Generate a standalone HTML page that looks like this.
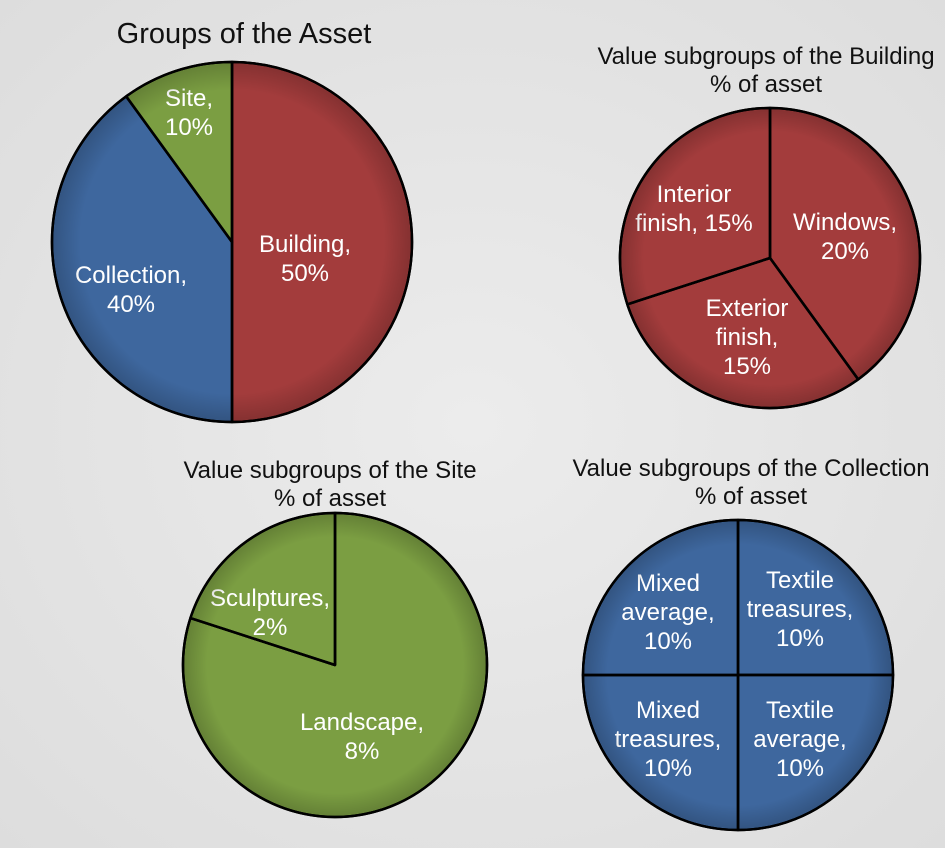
<!DOCTYPE html>
<html><head><meta charset="utf-8">
<style>
html,body{margin:0;padding:0;}
body{width:945px;height:848px;overflow:hidden;background:#e6e6e6;font-family:"Liberation Sans",sans-serif;}
svg{display:block;}
</style></head>
<body>
<svg id="chart" width="945" height="848" viewBox="0 0 945 848">
<defs>
<radialGradient id="bg" cx="50%" cy="50%" r="75%"><stop offset="0" stop-color="#ececec"/><stop offset="1" stop-color="#dcdcdc"/></radialGradient>
<radialGradient id="shade" cx="50%" cy="50%" r="50%"><stop offset="0.85" stop-color="#000" stop-opacity="0"/><stop offset="1" stop-color="#000" stop-opacity="0.18"/></radialGradient>
</defs>
<rect x="0" y="0" width="945" height="848" fill="url(#bg)"/>
</svg>
<script>
// Pie 1: Groups of the Asset
const assetCategories = ["Building", "Collection", "Site"];
const assetValues = [50, 40, 10];
// Pie 2: Building subgroups
const buildingCategories = ["Windows", "Exterior finish", "Interior finish"];
const buildingValues = [20, 15, 15];
// Pie 3: Site subgroups
const siteCategories = ["Landscape", "Sculptures"];
const siteValues = [8, 2];
// Pie 4: Collection subgroups
const collectionCategories = ["Textile treasures", "Textile average", "Mixed treasures", "Mixed average"];
const collectionValues = [10, 10, 10, 10];

const RED="#a33c3c", BLUE="#3e679e", GREEN="#7b9e42";
const svg=document.getElementById('chart');
const NS="http://www.w3.org/2000/svg";

function mk(tag,attrs){const e=document.createElementNS(NS,tag);for(const k in attrs)e.setAttribute(k,attrs[k]);return e;}

function drawTitle(lines,x,y,size,lh,name){
  const t=mk('text',{x:x,y:y,'text-anchor':'middle','font-size':size,fill:'#111'});
  
  
  lines.forEach((l,i)=>{const s=mk('tspan',{x:x,dy:i?lh:0});s.textContent=l;t.appendChild(s);});
  svg.appendChild(t);
}

function drawPie(cats,vals,colors,cx,cy,r,labelText,labelPos,name){
  const g=mk('g',{});
  
  
  svg.appendChild(g);
  const total=vals.reduce((a,b)=>a+b,0);
  let a0=0;
  vals.forEach((v,i)=>{
    const a1=a0+v/total*Math.PI*2;
    const x0=cx+r*Math.sin(a0),y0=cy-r*Math.cos(a0);
    const x1=cx+r*Math.sin(a1),y1=cy-r*Math.cos(a1);
    const large=(a1-a0)>Math.PI?1:0;
    const p=mk('path',{d:`M${cx},${cy} L${x0},${y0} A${r},${r} 0 ${large} 1 ${x1},${y1} Z`,fill:colors[i],stroke:'#000','stroke-width':2.5,'stroke-linejoin':'round'});
    
    
    g.appendChild(p);
    const lines=labelText[i](v);
    const pos=labelPos[i];
    const t=mk('text',{x:pos[0],y:pos[1],'text-anchor':'middle','font-size':24,fill:'#fff'});
    
    
    lines.forEach((l,k)=>{const s=mk('tspan',{x:pos[0],dy:k?29:0});s.textContent=l;t.appendChild(s);});
    g.appendChild(t);
    a0=a1;
  });
  const sh=mk('circle',{cx:cx,cy:cy,r:r-1.5,fill:'url(#shade)','pointer-events':'none'});
  
  
  g.appendChild(sh);
  let b0=0;
  vals.forEach(v=>{const x=cx+r*Math.sin(b0),y=cy-r*Math.cos(b0);
    const l=mk('line',{x1:cx,y1:cy,x2:x,y2:y,stroke:'#000','stroke-width':2.5});
    
    
    g.appendChild(l);b0+=v/total*Math.PI*2;});
  const c=mk('circle',{cx:cx,cy:cy,r:r,fill:'none',stroke:'#000','stroke-width':2.5});
  
  
  g.appendChild(c);
}

drawTitle(["Groups of the Asset"],244,43,29,0,'title-groups-of-asset');
drawTitle(["Value subgroups of the Building","% of asset"],766,64,24,28,'title-building-subgroups');
drawTitle(["Value subgroups of the Site","% of asset"],330,478,24,28,'title-site-subgroups');
drawTitle(["Value subgroups of the Collection","% of asset"],751,476,24,28,'title-collection-subgroups');

drawPie(assetCategories,assetValues,[RED,BLUE,GREEN],232,242,180,
  [v=>["Building,",v+"%"],v=>["Collection,",v+"%"],v=>["Site,",v+"%"]],
  [[305,252],[131,283],[189,106]],'pie-groups-of-asset');
drawPie(buildingCategories,buildingValues,[RED,RED,RED],770,258,150,
  [v=>["Windows,",v+"%"],v=>["Exterior","finish,",v+"%"],v=>["Interior","finish, "+v+"%"]],
  [[845,230],[747,316],[694,202]],'pie-building-subgroups');
drawPie(siteCategories,siteValues,[GREEN,GREEN],335,665,152,
  [v=>["Landscape,",v+"%"],v=>["Sculptures,",v+"%"]],
  [[362,730],[270,606]],'pie-site-subgroups');
drawPie(collectionCategories,collectionValues,[BLUE,BLUE,BLUE,BLUE],738,675,155,
  [v=>["Textile","treasures,",v+"%"],v=>["Textile","average,",v+"%"],v=>["Mixed","treasures,",v+"%"],v=>["Mixed","average,",v+"%"]],
  [[800,588],[800,718],[668,718],[668,591]],'pie-collection-subgroups');
</script>
</body></html>
